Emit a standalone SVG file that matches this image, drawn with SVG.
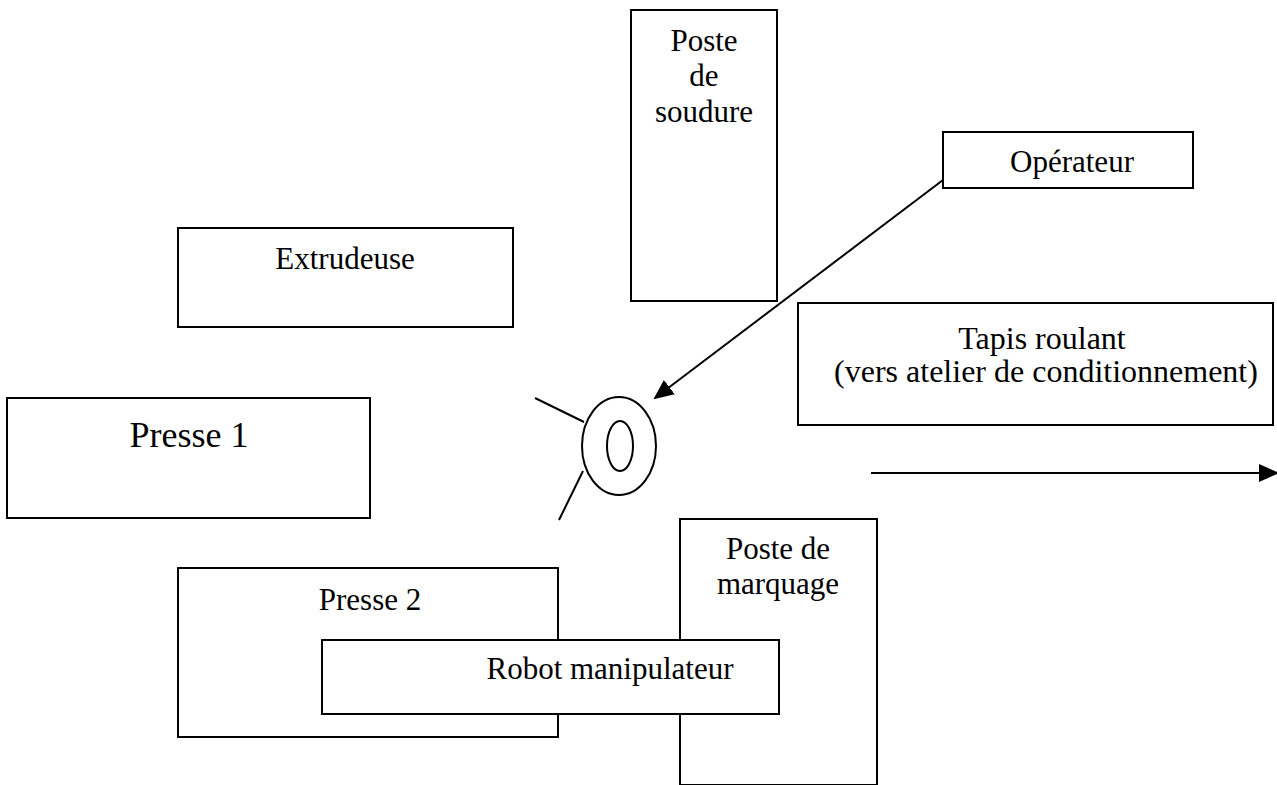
<svg xmlns="http://www.w3.org/2000/svg" width="1277" height="785" viewBox="0 0 1277 785">
<style>
.box{fill:#fff;stroke:#000;stroke-width:2}
.t{font-family:"Liberation Serif","Times New Roman",serif;font-size:31px;fill:#000;text-anchor:middle}
.big{font-size:36px}
.mid{font-size:32px}
.ln{stroke:#000;stroke-width:2;fill:none}
</style>
<defs>
<marker id="ah2" markerWidth="20" markerHeight="18" refX="18" refY="9" orient="auto" markerUnits="userSpaceOnUse">
<path d="M0,0 L20,9 L0,18 Z" fill="#000"/>
</marker>
</defs>
<rect width="1277" height="785" fill="#fff"/>
<g id="poste-soudure">
<rect class="box" x="631" y="10" width="146" height="291"/>
<text class="t" x="704" y="51">Poste</text>
<text class="t" x="704" y="86">de</text>
<text class="t" x="704" y="122">soudure</text>
</g>
<g id="operateur">
<rect class="box" x="943" y="132" width="250" height="56"/>
<text class="t" x="1072" y="172">Opérateur</text>
</g>
<g id="extrudeuse">
<rect class="box" x="178" y="228" width="335" height="99"/>
<text class="t" x="345" y="269">Extrudeuse</text>
</g>
<g id="tapis-roulant">
<rect class="box" x="798" y="303" width="475" height="122"/>
<text class="t mid" x="1042" y="349">Tapis roulant</text>
<text class="t mid" x="1046" y="382">(vers atelier de conditionnement)</text>
</g>
<g id="presse-1">
<rect class="box" x="7" y="398" width="363" height="120"/>
<text class="t big" x="189" y="447">Presse 1</text>
</g>
<g id="robot-symbole">
<ellipse class="ln" cx="619" cy="446" rx="37" ry="49"/>
<ellipse class="ln" cx="620" cy="446" rx="13" ry="25"/>
<line class="ln" x1="535" y1="398" x2="584" y2="422"/>
<line class="ln" x1="583" y1="471" x2="559" y2="520"/>
</g>
<g id="presse-2">
<rect class="box" x="178" y="568" width="380" height="169"/>
<text class="t" x="370" y="610">Presse 2</text>
</g>
<g id="poste-marquage">
<rect class="box" x="680" y="519" width="197" height="266"/>
<text class="t" x="778" y="559">Poste de</text>
<text class="t" x="778" y="594">marquage</text>
</g>
<g id="robot-manipulateur">
<rect class="box" x="322" y="640" width="457" height="74"/>
<text class="t" x="610" y="679">Robot manipulateur</text>
</g>
<g id="connectors">
<line class="ln" x1="943" y1="180" x2="655" y2="398" marker-end="url(#ah2)"/>
<line class="ln" x1="871" y1="473" x2="1277" y2="473" marker-end="url(#ah2)"/>
</g>
</svg>
